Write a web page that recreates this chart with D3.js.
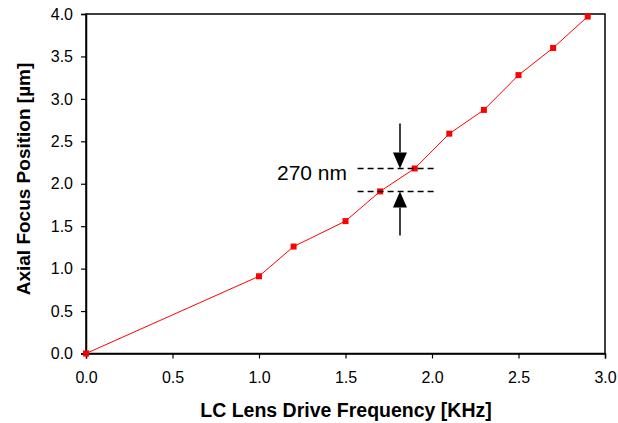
<!DOCTYPE html>
<html>
<head>
<meta charset="utf-8">
<script src="https://cdnjs.cloudflare.com/ajax/libs/d3/7.8.5/d3.min.js"></script>
<style>
  body { margin: 0; background: #fff; }
  svg { display: block; font-family: "Liberation Sans", Arial, sans-serif; }
</style>
</head>
<body>
<div id="chart"></div>
<script>
// data
const freq = [0.0, 1.0, 1.2, 1.5, 1.7, 1.9, 2.1, 2.3, 2.5, 2.7, 2.9]
const focus = [0.0, 0.91, 1.26, 1.56, 1.91, 2.18, 2.59, 2.87, 3.28, 3.60, 3.97]
const xTicks = [0, 0.5, 1.0, 1.5, 2.0, 2.5, 3.0]
const yTicks = [0, 0.5, 1.0, 1.5, 2.0, 2.5, 3.0, 3.5, 4.0]
// 270 nm step marker (data units)
const stepLevels = [2.18, 1.91]
const stepSpan = [1.57, 2.02]
const arrowX = 1.815
const arrowEnds = [2.71, 1.39]

const W = 618, H = 423
const margin = { top: 14, right: 13, bottom: 70, left: 86 }

const svg = d3.select('#chart')
  .append('svg')
  .attr('width', W)
  .attr('height', H)

const x = d3.scaleLinear()
  .domain([0, 3])
  .range([margin.left, W - margin.right])

const y = d3.scaleLinear()
  .domain([0, 4])
  .range([H - margin.bottom + 0.5, margin.top])

const fmt = d3.format('.1f')

// frame
svg.append('rect')
  .attr('x', x(0))
  .attr('y', y(4))
  .attr('width', x(3) - x(0))
  .attr('height', y(0) - y(4))
  .attr('fill', 'none')
  .attr('stroke', '#000')
  .attr('stroke-width', 1.5)

const xAxis = svg.append('g')
  .attr('transform', 'translate(0,' + y(0) + ')')
  .call(d3.axisBottom(x).tickValues(xTicks).tickFormat(fmt).tickSize(5).tickPadding(13))

const yAxis = svg.append('g')
  .attr('transform', 'translate(' + x(0) + ',0)')
  .call(d3.axisLeft(y).tickValues(yTicks).tickFormat(fmt).tickSize(5).tickPadding(8))

;[xAxis, yAxis].forEach(g => {
  g.select('.domain').attr('stroke-width', 1.5)
  g.selectAll('.tick line').attr('stroke-width', 1.2)
  g.selectAll('text')
    .attr('font-size', 16)
    .attr('font-family', '"Liberation Sans", Arial, sans-serif')
    .attr('fill', '#000')
})

// axis titles
svg.append('text')
  .attr('x', 346)
  .attr('y', 417)
  .attr('text-anchor', 'middle')
  .attr('font-size', 19.5)
  .attr('font-weight', 'bold')
  .text('LC Lens Drive Frequency [KHz]')

svg.append('text')
  .attr('transform', 'translate(30,179) rotate(-90)')
  .attr('text-anchor', 'middle')
  .attr('font-size', 19)
  .attr('font-weight', 'bold')
  .text('Axial Focus Position [µm]')

// series
const pts = freq.map((f, i) => [f, focus[i]])

svg.append('path')
  .datum(pts)
  .attr('fill', 'none')
  .attr('stroke', '#ff0000')
  .attr('stroke-width', 1)
  .attr('d', d3.line().x(d => x(d[0])).y(d => y(d[1])))

svg.selectAll('rect.pt')
  .data(pts)
  .enter()
  .append('rect')
    .attr('class', 'pt')
    .attr('x', d => x(d[0]) - 3)
    .attr('y', d => y(d[1]) - 3)
    .attr('width', 6)
    .attr('height', 6)
    .attr('fill', '#ff0000')

// annotation
const ann = svg.append('g')

ann.selectAll('line.dash')
  .data(stepLevels)
  .enter()
  .append('line')
    .attr('class', 'dash')
    .attr('x1', x(stepSpan[0]))
    .attr('x2', x(stepSpan[1]))
    .attr('y1', d => y(d))
    .attr('y2', d => y(d))
    .attr('stroke', '#000')
    .attr('stroke-width', 1.5)
    .attr('stroke-dasharray', '6,4')

const ax = x(arrowX)
const drawArrow = (from, to) => {
  const y0 = y(from), y1 = y(to)
  const dir = y1 > y0 ? 1 : -1
  const headLen = 16, headW = 7
  ann.append('line')
    .attr('x1', ax).attr('x2', ax)
    .attr('y1', y0).attr('y2', y1 - dir * headLen)
    .attr('stroke', '#000')
    .attr('stroke-width', 1.5)
  ann.append('path')
    .attr('d', 'M' + ax + ',' + y1 +
      'L' + (ax - headW) + ',' + (y1 - dir * headLen) +
      'L' + (ax + headW) + ',' + (y1 - dir * headLen) + 'Z')
    .attr('fill', '#000')
}
drawArrow(arrowEnds[0], stepLevels[0])
drawArrow(arrowEnds[1], stepLevels[1])

ann.append('text')
  .attr('x', 347)
  .attr('y', 180)
  .attr('text-anchor', 'end')
  .attr('font-size', 21)
  .text('270 nm')
</script>
</body>
</html>
